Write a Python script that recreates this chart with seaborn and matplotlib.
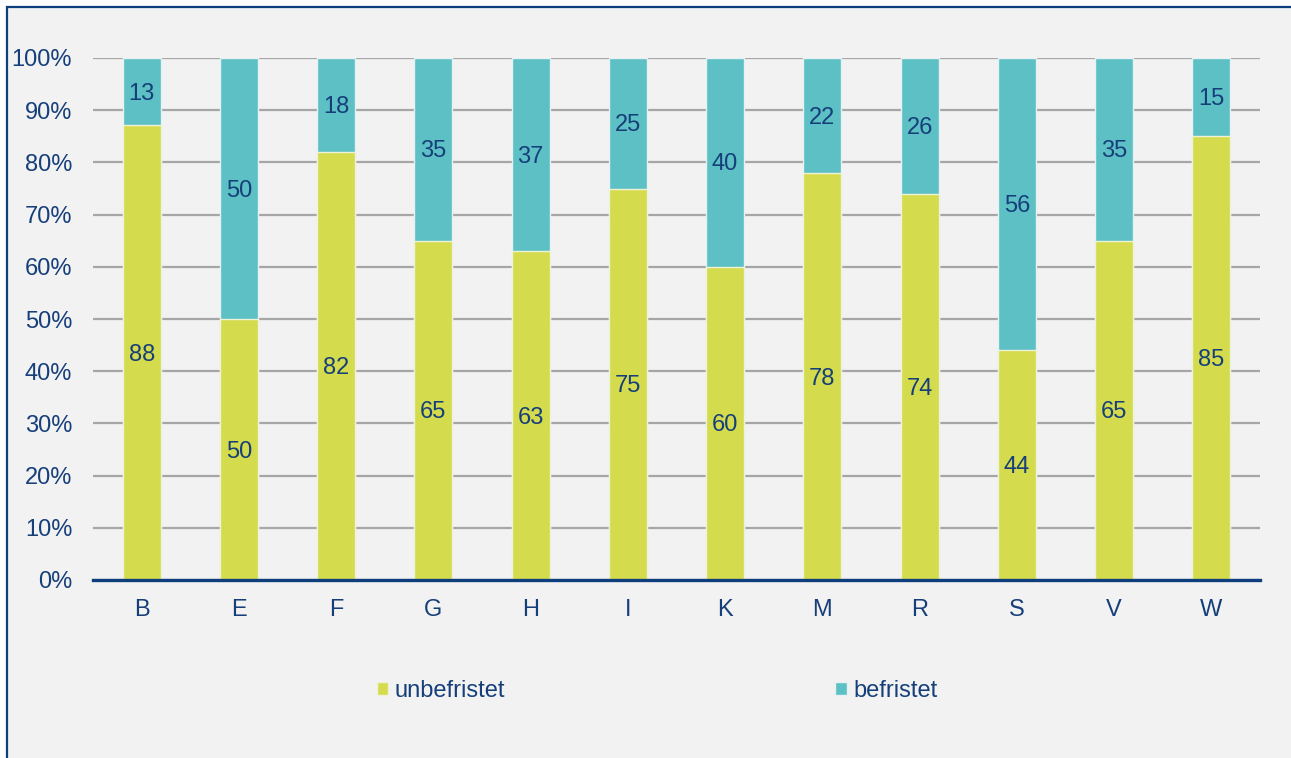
import numpy as np
import pandas as pd
import matplotlib
matplotlib.use("Agg")
import matplotlib.pyplot as plt
from matplotlib.patches import Rectangle, Patch
import seaborn as sns

kategorien = ["B", "E", "F", "G", "H", "I", "K", "M", "R", "S", "V", "W"]
unbefristet = [88, 50, 82, 65, 63, 75, 60, 78, 74, 44, 65, 85]
befristet = [13, 50, 18, 35, 37, 25, 40, 22, 26, 56, 35, 15]

GELB = "#D4DB4C"
TUERKIS = "#5CC0C5"
TEXT = "#163F7A"
ACHSE = "#0E3F7C"
HINTERGRUND = "#F2F2F2"
FS = 17

sns.set_theme(style="white")
plt.rcParams["font.family"] = ["Liberation Sans", "DejaVu Sans"]

df = pd.DataFrame({"kat": kategorien, "unbef": unbefristet, "bef": befristet})
summe = df["unbef"] + df["bef"]
df["unbef_pct"] = df["unbef"] / summe * 100
df["gesamt_pct"] = 100.0

fig = plt.figure(figsize=(12.91, 7.58), dpi=100)
fig.patch.set_facecolor("white")
fig.patches.append(Rectangle((7 / 1291, -0.1), 1.2, 1.1 - 7.5 / 758,
                             transform=fig.transFigure, facecolor=HINTERGRUND,
                             edgecolor=ACHSE, linewidth=1.6, zorder=-10))

ax = fig.add_axes([93 / 1291, 1 - 580 / 758, (1260 - 93) / 1291, (580 - 58) / 758])
ax.set_facecolor("none")

sns.barplot(data=df, x="kat", y="gesamt_pct", color=TUERKIS, width=0.39,
            edgecolor="#E6F2F2", linewidth=1.0, saturation=1, ax=ax, zorder=2)
sns.barplot(data=df, x="kat", y="unbef_pct", color=GELB, width=0.39,
            edgecolor="#EEF2D8", linewidth=1.0, saturation=1, ax=ax, zorder=3)

for i in range(len(df)):
    u = df["unbef_pct"][i]
    ax.text(i, u / 2 - 0.4, str(unbefristet[i]), ha="center", va="center",
            fontsize=FS, color=TEXT, zorder=5)
    ax.text(i, u + (100 - u) / 2 - 0.4, str(befristet[i]), ha="center", va="center",
            fontsize=FS, color=TEXT, zorder=5)

ax.set_ylim(0, 100)
ax.set_xlim(-0.5, len(df) - 0.5)
ax.set_yticks(np.arange(0, 101, 10))
ax.set_yticklabels([f"{v}%" for v in range(0, 101, 10)])
ax.yaxis.grid(True, color="#A6A6A6", linewidth=1.6, zorder=0)
ax.set_axisbelow(True)
ax.set_xlabel("")
ax.set_ylabel("")
for s in ["top", "right", "left"]:
    ax.spines[s].set_visible(False)
ax.spines["bottom"].set_color(ACHSE)
ax.spines["bottom"].set_linewidth(2.4)
ax.spines["bottom"].set_zorder(6)
ax.tick_params(axis="both", length=0, labelsize=FS, labelcolor=TEXT)
ax.tick_params(axis="y", pad=15)
ax.tick_params(axis="x", pad=14)

handles = [Patch(facecolor=GELB, edgecolor="#EEF2D8", linewidth=1.0),
           Patch(facecolor=TUERKIS, edgecolor="#E6F2F2", linewidth=1.0)]
fig.legend(handles, ["unbefristet", "befristet"], loc="center",
           bbox_to_anchor=(657 / 1291, 1 - 691 / 758), ncol=2, frameon=False,
           fontsize=FS, labelcolor=TEXT, handlelength=0.5, handleheight=0.5,
           handletextpad=0.25, columnspacing=14.0)

fig.savefig("out.png", dpi=100, facecolor=fig.get_facecolor())
